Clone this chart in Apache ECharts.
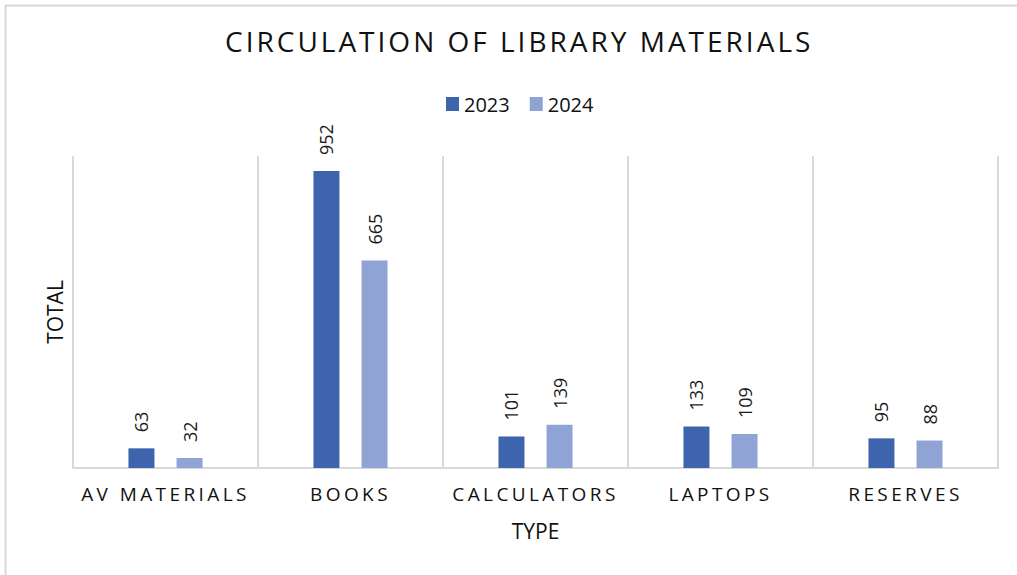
<!DOCTYPE html>
<html>
<head>
<meta charset="utf-8">
<script src="https://cdn.jsdelivr.net/npm/echarts@6/dist/echarts.min.js"></script>
<style>
    html, body { margin: 0; padding: 0; background: #fff; }
    #chart { width: 1017px; height: 575px; }
</style>
</head>
<body>
<div id="chart"></div>
<script>
// 数据
var categories = ['AV MATERIALS', 'BOOKS', 'CALCULATORS', 'LAPTOPS', 'RESERVES'];
var seriesNames = ['2023', '2024'];
var values2023 = [63, 952, 101, 133, 95];
var values2024 = [32, 665, 139, 109, 88];

var titleText = 'CIRCULATION OF LIBRARY MATERIALS';
var fontName = "'Open Sans', 'Liberation Sans', sans-serif";

var myChart = echarts.init(document.getElementById('chart'), null, { renderer: 'svg' });

function barLabel() {
    return {
        show: true,
        position: 'top',
        rotate: 90,
        align: 'left',
        verticalAlign: 'middle',
        distance: 16,
        color: '#1a1a1a',
        fontSize: 18,
        fontFamily: fontName
    };
}

var option = {
    animation: false,
    backgroundColor: '#fff',
    color: ['#3d64ad', '#8fa4d5'],
    title: {
        text: titleText,
        left: 220,
        top: 22,
        textStyle: {
            fontFamily: fontName,
            fontWeight: 'normal',
            fontSize: 28,
            color: '#111'
        }
    },
    legend: {
        data: seriesNames,
        top: 89,
        left: 441,
        icon: 'rect',
        itemWidth: 13,
        itemHeight: 14,
        itemGap: 20,
        textStyle: {
            fontFamily: fontName,
            fontSize: 20,
            color: '#111'
        }
    },
    grid: {
        left: 73,
        right: 19,
        top: 156,
        bottom: 107,
        containLabel: false
    },
    xAxis: {
        type: 'category',
        data: categories,
        name: 'TYPE',
        nameLocation: 'middle',
        nameGap: 52,
        nameTextStyle: {
            fontFamily: fontName,
            fontSize: 21,
            color: '#111'
        },
        axisLine: { lineStyle: { color: '#d9d9d9', width: 2 } },
        axisTick: { show: false },
        axisLabel: {
            margin: 16,
            fontFamily: fontName,
            fontSize: 19,
            color: '#111'
        },
        splitLine: {
            show: true,
            showMinLine: true,
            showMaxLine: true,
            lineStyle: { color: '#d9d9d9', width: 2 }
        }
    },
    yAxis: {
        type: 'value',
        min: 0,
        max: 1000,
        interval: 200,
        name: 'TOTAL',
        nameLocation: 'middle',
        nameGap: 8,
        nameTextStyle: {
            fontFamily: fontName,
            fontSize: 21,
            color: '#111'
        },
        axisLine: { show: false },
        axisTick: { show: false },
        axisLabel: { show: false },
        splitLine: { show: false }
    },
    graphic: [{
        type: 'rect',
        left: 3,
        top: 3,
        shape: { width: 1100, height: 700 },
        style: { fill: 'none', stroke: '#d9d9d9', lineWidth: 2 },
        silent: true,
        z: -1
    }],
    series: [{
        name: seriesNames[0],
        type: 'bar',
        data: values2023,
        barWidth: 26,
        barGap: '85%',
        label: barLabel()
    }, {
        name: seriesNames[1],
        type: 'bar',
        data: values2024,
        barWidth: 26,
        barGap: '85%',
        label: barLabel()
    }]
};

myChart.setOption(option);

// 字间距 (svg text)
var spaced = {};
spaced[titleText] = '3px';
categories.forEach(function (c) { spaced[c] = '3.4px'; });
var texts = document.querySelectorAll('#chart svg text');
for (var i = 0; i < texts.length; i++) {
    var t = texts[i].textContent;
    if (spaced[t]) {
        texts[i].style.letterSpacing = spaced[t];
    }
}
</script>
</body>
</html>
